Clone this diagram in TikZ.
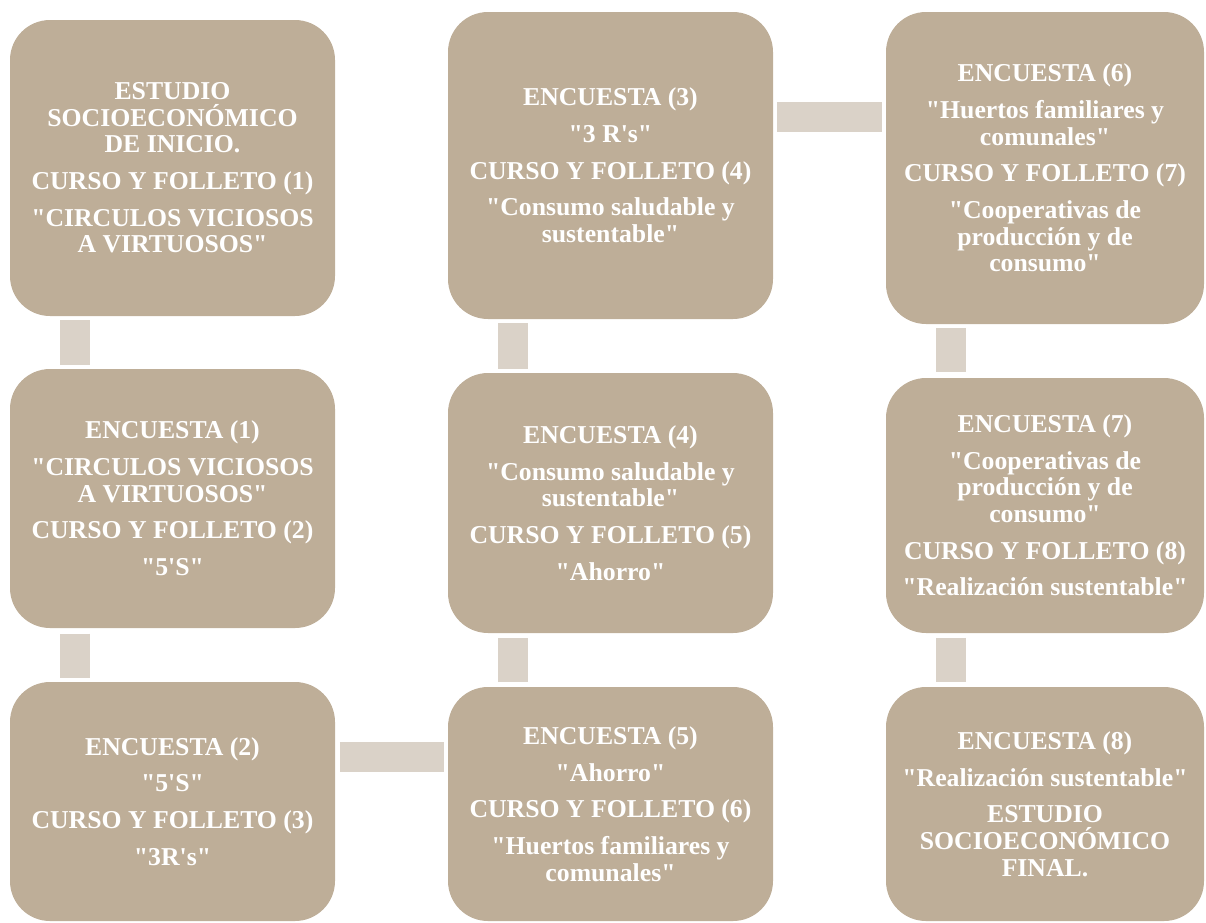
\documentclass[tikz,border=0pt]{standalone}
\usepackage{fontspec}
\setmainfont{Liberation Serif}
\definecolor{boxfill}{HTML}{BEAE98}
\definecolor{barfill}{HTML}{DAD2C8}
\newcommand{\gp}{\\[7.5pt]}
\newcommand{\aps}{\textquotesingle}
\newcommand{\qq}{\textquotedbl}
\tikzset{
  box/.style={fill=boxfill, rounded corners=30pt, inner sep=0pt, align=center,
    text=white, font=\fontsize{19.3}{20}\selectfont\bfseries},
  colA/.style={minimum width=243.75pt},
  colC/.style={minimum width=238.5pt},
  bar/.style={draw=barfill, line width=22.5pt, line cap=butt}
}
\begin{document}
\begin{tikzpicture}[x=0.75pt, y=-0.75pt]
\useasboundingbox (0,0) rectangle (1206,922);
% column 1
\node[box, colA, minimum height=222pt] (b1) at (172.5,168)
  {ESTUDIO\\SOCIOECONÓMICO\\DE INICIO.\gp CURSO Y FOLLETO (1)\gp \qq CIRCULOS VICIOSOS\\A VIRTUOSOS\qq};
\node[box, colA, minimum height=194.25pt] (b2) at (172.5,498.5)
  {ENCUESTA (1)\gp \qq CIRCULOS VICIOSOS\\A VIRTUOSOS\qq\gp CURSO Y FOLLETO (2)\gp \qq 5\aps S\qq};
\node[box, colA, minimum height=179.25pt] (b3) at (172.5,801.5)
  {ENCUESTA (2)\gp \qq 5\aps S\qq\gp CURSO Y FOLLETO (3)\gp \qq 3R\aps s\qq};
% column 2
\node[box, colA, minimum height=230.25pt] (b4) at (610.5,165.5)
  {ENCUESTA (3)\gp \qq 3 R\aps s\qq\gp CURSO Y FOLLETO (4)\gp \qq Consumo saludable y\\sustentable\qq};
\node[box, colA, minimum height=195pt] (b5) at (610.5,503)
  {ENCUESTA (4)\gp \qq Consumo saludable y\\sustentable\qq\gp CURSO Y FOLLETO (5)\gp \qq Ahorro\qq};
\node[box, colA, minimum height=175.5pt] (b6) at (610.5,804)
  {ENCUESTA (5)\gp \qq Ahorro\qq\gp CURSO Y FOLLETO (6)\gp \qq Huertos familiares y\\comunales\qq};
% column 3
\node[box, colC, minimum height=234pt] (b7) at (1045,168)
  {ENCUESTA (6)\gp \qq Huertos familiares y\\comunales\qq\gp CURSO Y FOLLETO (7)\gp \qq Cooperativas de\\producción y de\\consumo\qq};
\node[box, colC, minimum height=191.25pt] (b8) at (1045,505.5)
  {ENCUESTA (7)\gp \qq Cooperativas de\\producción y de\\consumo\qq\gp CURSO Y FOLLETO (8)\gp \qq Realización sustentable\qq};
\node[box, colC, minimum height=175.5pt] (b9) at (1045,804)
  {ENCUESTA (8)\gp \qq Realización sustentable\qq\gp ESTUDIO\\SOCIOECONÓMICO\\FINAL.};
% connectors
\coordinate (h1) at ([xshift=3.5pt, yshift=-56.6pt]b3.north east);
\coordinate (h2) at ([xshift=3pt, yshift=-79.1pt]b4.north east);
\draw[bar] ([xshift=48.75pt, yshift=-3pt]b1.south west) -- ([xshift=48.75pt, yshift=3pt]b2.north west);
\draw[bar] ([xshift=48.75pt, yshift=-4pt]b2.south west) -- ([xshift=48.75pt, yshift=3pt]b3.north west);
\draw[bar] (h1) -- ([xshift=-3pt]h1 -| b6.west);
\draw[bar] ([xshift=48.75pt, yshift=3.5pt]b6.north west) -- ([xshift=48.75pt, yshift=-3.5pt]b5.south west);
\draw[bar] ([xshift=48.75pt, yshift=3pt]b5.north west) -- ([xshift=48.75pt, yshift=-3pt]b4.south west);
\draw[bar] (h2) -- ([xshift=-3pt]h2 -| b7.west);
\draw[bar] ([xshift=48.75pt, yshift=-3pt]b7.south west) -- ([xshift=48.75pt, yshift=4pt]b8.north west);
\draw[bar] ([xshift=48.75pt, yshift=-3.5pt]b8.south west) -- ([xshift=48.75pt, yshift=3.5pt]b9.north west);
\end{tikzpicture}
\end{document}
